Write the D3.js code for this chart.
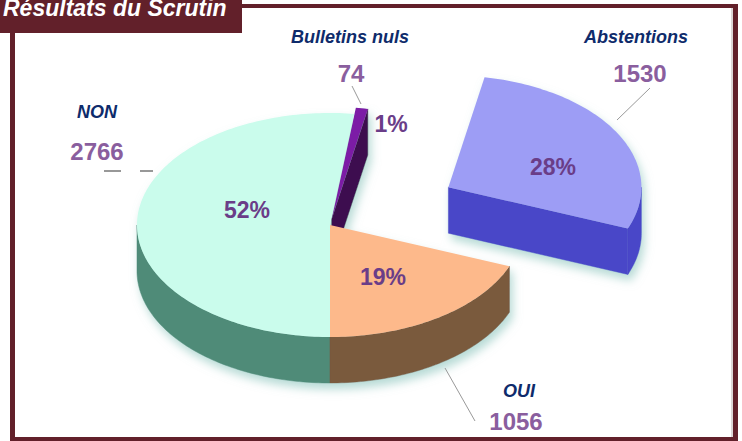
<!DOCTYPE html>
<meta charset="utf-8">
<style>
    body { margin: 0; background: #fff; }
    text { font-family: "Liberation Sans", Arial, sans-serif; }
    .name { font-size: 18px; font-weight: bold; font-style: italic; fill: #0e2b6b; text-anchor: middle; }
    .value { font-size: 24px; font-weight: bold; fill: #8a5e9e; text-anchor: middle; }
    .pct { font-size: 23px; font-weight: bold; fill: #6a3d88; text-anchor: middle; }
    .lead { stroke: #999; stroke-width: 1; fill: none; }
</style>
<svg width="742" height="441"></svg>
<script src="https://d3js.org/d3.v7.min.js"></script>
<script>

    // data (slice order, clockwise from the top)
    var names = ["Bulletins nuls", "Abstentions", "OUI", "NON"],
        counts = [74, 1530, 1056, 2766],
        percents = [1, 28, 19, 52];

    // styles / layout
    var topColors = ["#7b1fa6", "#9d9df5", "#fdb98b", "#cafcec"],
        sideColors = ["#3e0a50", "#4a46c8", "#7a5a3e", "#4f8b78"],
        explode = [0.055, 0.7, 0, 0];

    var nameAt = [[350, 43], [636, 43], [519, 397], [97, 118]],
        valueAt = [[351, 82], [640, 82], [516, 430], [97, 160]],
        pctAt = [[391, 132], [553, 175], [383, 285], [247, 218]],
        leaders = [[[352, 86], [361, 104]], [[650, 88], [617, 120]],
                   [[445, 368], [475, 421]], [[104, 171], [153, 171]]];

    var svg = d3.select("svg"),
        maroon = "#62202a",
        cx = 330, cy = 225, rx = 193, ry = 112, depth = 46;

    // shadow under the pie
    var defs = svg.append("defs");
    var f = defs.append("filter").attr("id", "sh")
        .attr("x", "-20%").attr("y", "-20%").attr("width", "140%").attr("height", "150%");
    f.append("feGaussianBlur").attr("in", "SourceAlpha").attr("stdDeviation", 5).attr("result", "b");
    f.append("feOffset").attr("in", "b").attr("dx", 3).attr("dy", 6).attr("result", "o");
    f.append("feFlood").attr("flood-color", "#7dbdb4").attr("flood-opacity", 0.55);
    f.append("feComposite").attr("in2", "o").attr("operator", "in").attr("result", "s");
    var m = f.append("feMerge");
    m.append("feMergeNode").attr("in", "s");
    m.append("feMergeNode").attr("in", "SourceGraphic");

    // frame
    svg.append("rect").attr("x", 238).attr("y", 4).attr("width", 500).attr("height", 4).attr("fill", maroon);
    svg.append("rect").attr("x", 733).attr("y", 4).attr("width", 5).attr("height", 437).attr("fill", maroon);
    svg.append("rect").attr("x", 731).attr("y", 8).attr("width", 2).attr("height", 429).attr("fill", "#ddd6d6");
    svg.append("rect").attr("x", 10).attr("y", 30).attr("width", 5).attr("height", 411).attr("fill", maroon);
    svg.append("rect").attr("x", 10).attr("y", 437).attr("width", 728).attr("height", 4).attr("fill", maroon);
    svg.append("rect").attr("x", 0).attr("y", 0).attr("width", 242).attr("height", 33).attr("fill", maroon);
    svg.append("text").attr("x", 3).attr("y", 16)
        .style("font-size", "23px").style("font-weight", "bold").style("font-style", "italic")
        .attr("fill", "#fff").text("Résultats du Scrutin");

    // pie angles: OUI ends at the bottom
    var start = Math.PI - 2 * Math.PI * d3.sum(percents.slice(0, 3)) / d3.sum(percents);
    var pie = d3.pie().sort(null).value(function (d) { return d; })
        .startAngle(start).endAngle(start + 2 * Math.PI);
    var arcs = pie(percents);

    var line = d3.line().curve(d3.curveLinearClosed);

    function pt(a, o, h) {
        return [cx + o[0] + rx * Math.sin(a), cy + o[1] - ry * Math.cos(a) + h];
    }
    function arcPts(a0, a1, o, h) {
        var n = Math.max(2, Math.ceil((a1 - a0) / 0.02));
        return d3.range(n + 1).map(function (i) { return pt(a0 + (a1 - a0) * i / n, o, h); });
    }

    arcs.forEach(function (d, i) {
        var mid = (d.startAngle + d.endAngle) / 2;
        d.i = i;
        d.o = [explode[i] * rx * Math.sin(mid), -explode[i] * ry * Math.cos(mid)];
        d.key = -Math.cos(mid);
    });

    var pieG = svg.append("g").attr("filter", "url(#sh)");

    arcs.slice().sort(function (a, b) { return a.key - b.key; }).forEach(function (d) {
        var g = pieG.append("g"),
            a0 = d.startAngle, a1 = d.endAngle, o = d.o,
            c0 = [cx + o[0], cy + o[1]], c1 = [cx + o[0], cy + o[1] + depth],
            side = sideColors[d.i];

        // front part of the outer wall
        [[Math.PI / 2, 3 * Math.PI / 2], [5 * Math.PI / 2, 7 * Math.PI / 2]].forEach(function (r) {
            var s0 = Math.max(a0, r[0]), s1 = Math.min(a1, r[1]);
            if (s1 > s0) {
                g.append("path")
                    .attr("d", line(arcPts(s0, s1, o, 0).concat(arcPts(s0, s1, o, depth).reverse())))
                    .attr("fill", side).attr("stroke", side).attr("stroke-width", 0.5);
            }
        });

        // cut faces of the pulled-out slices
        function wall(a) {
            g.append("path")
                .attr("d", line([c0, pt(a, o, 0), pt(a, o, depth), c1]))
                .attr("fill", side).attr("stroke", side).attr("stroke-width", 0.5);
        }
        if (explode[d.i] > 0) {
            if (Math.sin(a1) > 0) wall(a1);
            if (Math.sin(a0) < 0) wall(a0);
        }

        // top face
        g.append("path")
            .attr("d", line([c0].concat(arcPts(a0, a1, o, 0))))
            .attr("fill", topColors[d.i]);
    });

    // leader lines
    leaders.forEach(function (l, i) {
        svg.append("line").attr("class", "lead")
            .attr("x1", l[0][0]).attr("y1", l[0][1]).attr("x2", l[1][0]).attr("y2", l[1][1])
            .attr("stroke-dasharray", i === 3 ? "17,19" : null)
            .style("stroke", i === 3 ? "#777" : null)
            .style("stroke-width", i === 3 ? 1.5 : null);
    });

    // labels
    svg.selectAll(".name").data(names).enter().append("text").attr("class", "name")
        .attr("x", function (d, i) { return nameAt[i][0]; })
        .attr("y", function (d, i) { return nameAt[i][1]; })
        .text(function (d) { return d; });

    svg.selectAll(".value").data(counts).enter().append("text").attr("class", "value")
        .attr("x", function (d, i) { return valueAt[i][0]; })
        .attr("y", function (d, i) { return valueAt[i][1]; })
        .text(function (d) { return d; });

    svg.selectAll(".pct").data(percents).enter().append("text").attr("class", "pct")
        .attr("x", function (d, i) { return pctAt[i][0]; })
        .attr("y", function (d, i) { return pctAt[i][1]; })
        .text(function (d) { return d + "%"; });
</script>
